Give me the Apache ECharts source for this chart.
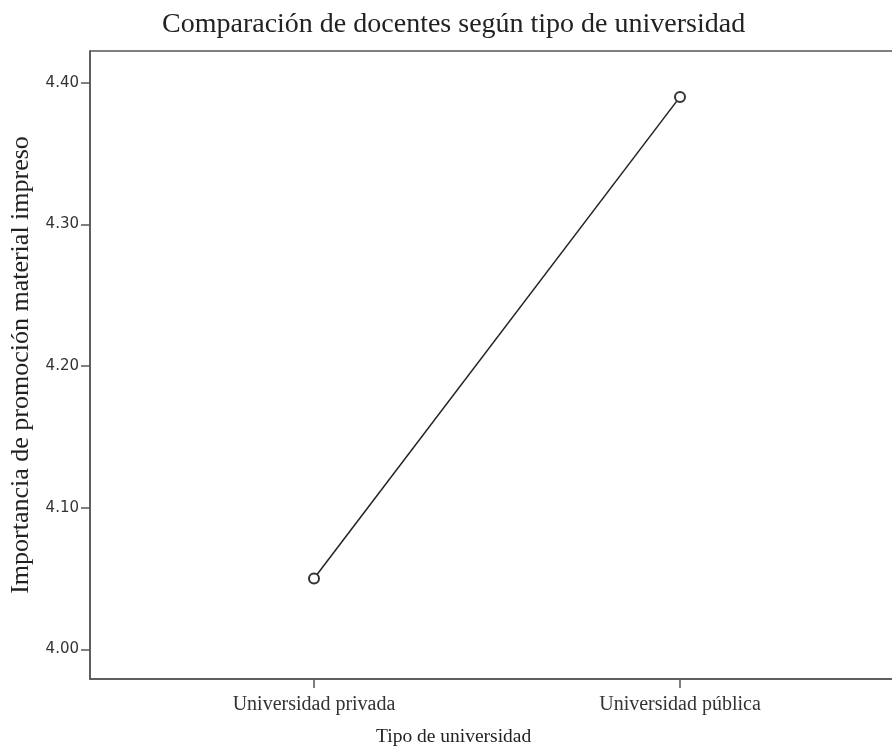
<!DOCTYPE html>
<html>
<head>
<meta charset="utf-8">
<script src="https://cdn.jsdelivr.net/npm/echarts@6/dist/echarts.min.js"></script>
<style>html,body{margin:0;padding:0;background:#fff}#c{width:892px;height:746px}</style>
</head>
<body>
<div id="c"></div>
<script>
const categories = ['Universidad privada', 'Universidad pública'];
const values = [4.05, 4.39];
const yTicks = [4.00, 4.10, 4.20, 4.30, 4.40];

const chart = echarts.init(document.getElementById('c'), null, {renderer: 'canvas'});
const serif = '"Liberation Serif", "DejaVu Serif", serif';
const sans = '"DejaVu Sans", sans-serif';
chart.setOption({
  animation: false,
  backgroundColor: '#fff',
  title: [{
    text: 'Comparación de docentes según tipo de universidad',
    left: 157, top: 6,
    textStyle: {fontFamily: serif, fontWeight: 'normal', fontSize: 28, color: '#222'}
  }, {
    text: 'Tipo de universidad',
    left: 371, top: 722,
    textStyle: {fontFamily: serif, fontWeight: 'normal', fontSize: 19.5, color: '#222'}
  }],
  grid: {left: 90, right: -12, top: 51, bottom: 67, outerBoundsMode: 'none',
    show: true, borderColor: '#555', borderWidth: 1.5},
  xAxis: {
    type: 'value', min: -0.612, max: 1.612,
    splitLine: {show: false},
    axisLine: {onZero: false, lineStyle: {color: '#555', width: 1.5}},
    axisTick: {customValues: [0, 1], length: 9, lineStyle: {color: '#555', width: 1.5}},
    axisLabel: {customValues: [0, 1], formatter: v => categories[Math.round(v)] || '', margin: 16,
      fontFamily: serif, fontSize: 20, color: '#333'}
  },
  yAxis: {
    type: 'value', min: 3.979, max: 4.4224,
    name: 'Importancia de promoción material impreso', nameLocation: 'middle', nameGap: 56,
    nameTextStyle: {fontFamily: serif, fontSize: 26, color: '#222'},
    splitLine: {show: false},
    axisLine: {show: true, onZero: false, lineStyle: {color: '#555', width: 1.5}},
    axisTick: {show: true, customValues: yTicks, length: 9, lineStyle: {color: '#555', width: 1.5}},
    axisLabel: {customValues: yTicks, formatter: v => v.toFixed(2), margin: 11,
      fontFamily: sans, fontSize: 15, color: '#333'}
  },
  series: [{
    type: 'line',
    data: values.map((v, i) => [i, v]),
    symbol: 'emptyCircle', symbolSize: 10,
    lineStyle: {color: '#222', width: 1.5},
    itemStyle: {color: '#333', borderWidth: 1.5}
  }]
});
</script>
</body>
</html>
